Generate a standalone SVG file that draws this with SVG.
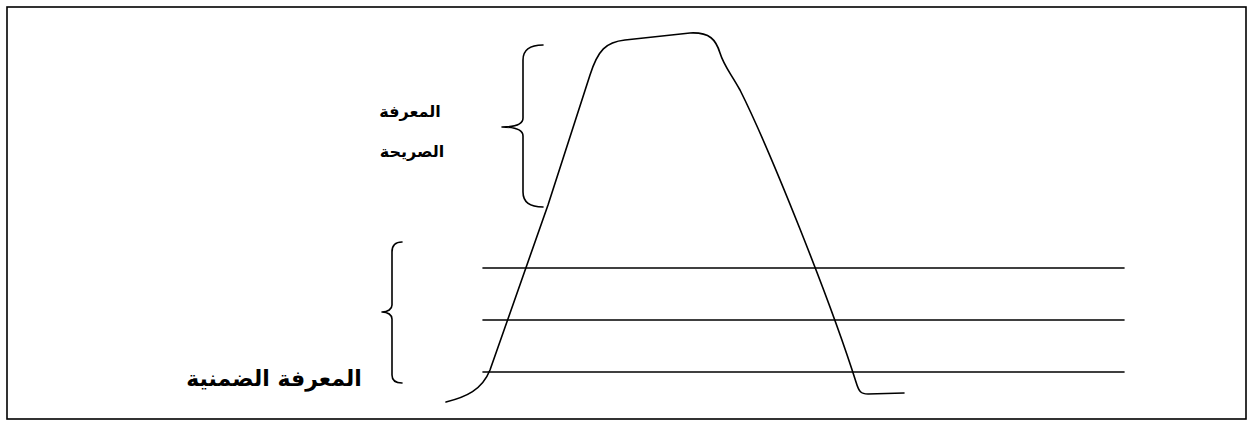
<svg xmlns="http://www.w3.org/2000/svg" width="1249" height="421" viewBox="0 0 1249 421">
<style>
.ln{fill:none;stroke:#000;stroke-width:1.6;stroke-linecap:round;stroke-linejoin:round}
.t{font-family:"DejaVu Sans","Noto Sans",sans-serif;font-weight:bold;fill:#000;text-anchor:middle}
</style>
<rect x="0" y="0" width="1249" height="421" fill="#fff"/>
<rect id="frame" x="7" y="7" width="1239" height="412" fill="none" stroke="#000" stroke-width="1.6"/>
<g id="connectors">
<path class="ln" d="M446,402 C466,397 482,390 490,370 L548,205 L590,75 C598,50 606,42 625,40 L690,33 C710,32 716,40 720,53 C724,66 730,72 740,90 C770,150 830,300 856,382 C859,392 861,394 868,394 L904,393"/>
<line class="ln" x1="483" y1="268" x2="1124" y2="268"/>
<line class="ln" x1="483" y1="320" x2="1124" y2="320"/>
<line class="ln" x1="483" y1="372" x2="1124" y2="372"/>
</g>
<g id="brace-explicit">
<path class="ln" d="M543,45 C530,45 523,50 523,60 L523,118 C523,124 515,127 502,127 C515,127 523,130 523,136 L523,192 C523,202 530,207 543,207"/>
</g>
<g id="brace-tacit">
<path class="ln" d="M402,242 C396,242 392,245 392,252 L392,305 C392,309 388,312 382,312 C388,312 392,315 392,319 L392,375 C392,381 396,383 402,383"/>
</g>
<g id="label-explicit">
<text class="t" x="410" y="117" font-size="16" direction="rtl">المعرفة</text>
<text class="t" x="412" y="157" font-size="16" direction="rtl">الصريحة</text>
</g>
<g id="label-tacit">
<text class="t" x="274" y="386" font-size="22" direction="rtl">المعرفة الضمنية</text>
</g>
</svg>
